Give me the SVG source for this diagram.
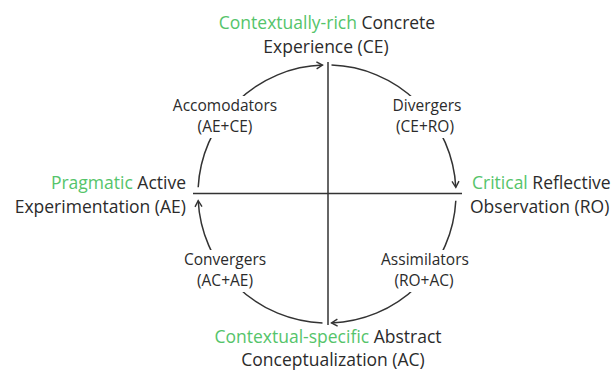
<svg xmlns="http://www.w3.org/2000/svg" width="616" height="371" viewBox="0 0 616 371">
<style>
  text { font-family: "Open Sans", Lato, "Liberation Sans", sans-serif; font-size: 17.5px; fill: #2b2b2b; }
  .g { fill: #55c46a; }
  .q { font-size: 15.5px; text-anchor: middle; }
  .c { text-anchor: middle; }
  .e { text-anchor: end; }
  .bg { fill: #ffffff; }
  .ln { fill: none; stroke: #333; stroke-width: 1.5; }
</style>
<defs>
  <marker id="ah" markerUnits="userSpaceOnUse" markerWidth="12" markerHeight="12" viewBox="-8 -6 10 12" refX="0" refY="0" orient="auto">
    <path d="M-6,-3.5 L0,0 L-6,3.5" fill="none" stroke="#333" stroke-width="1.4"/>
  </marker>
</defs>
<rect width="616" height="371" fill="#ffffff"/>
<g id="connectors">
  <path class="ln" d="M328,62 L328,325"/>
  <path class="ln" d="M193,193.5 L462,193.5"/>
  <path class="ln" d="M198.2,187.3 A129,129 0 0 1 322.5,65.1" marker-end="url(#ah)"/>
  <path class="ln" d="M331.5,65.1 A129,129 0 0 1 455.8,187.3" marker-end="url(#ah)"/>
  <path class="ln" d="M455.8,200.7 A129,129 0 0 1 331.5,322.9" marker-end="url(#ah)"/>
  <path class="ln" d="M322.5,322.9 A129,129 0 0 1 198.2,200.7" marker-end="url(#ah)"/>
</g>
<g id="node-ce">
  <text class="c" x="327" y="29"><tspan class="g">Contextually-rich</tspan> Concrete</text>
  <text class="c" x="326" y="53">Experience (CE)</text>
</g>
<g id="node-ae">
  <text class="e" x="186" y="189"><tspan class="g">Pragmatic</tspan> Active</text>
  <text class="e" x="186" y="213">Experimentation (AE)</text>
</g>
<g id="node-ro">
  <text x="472" y="189"><tspan class="g">Critical</tspan> Reflective</text>
  <text x="470" y="213">Observation (RO)</text>
</g>
<g id="node-ac">
  <text class="c" x="328" y="343"><tspan class="g">Contextual-specific</tspan> Abstract</text>
  <text class="c" x="333" y="366">Conceptualization (AC)</text>
</g>
<g id="node-accomodators">
  <rect class="bg" x="168" y="96" width="116" height="42"/>
  <text class="q" x="225" y="111">Accomodators</text>
  <text class="q" x="225" y="132">(AE+CE)</text>
</g>
<g id="node-divergers">
  <rect class="bg" x="382" y="96" width="90" height="42"/>
  <text class="q" x="427" y="111">Divergers</text>
  <text class="q" x="425" y="132">(CE+RO)</text>
</g>
<g id="node-convergers">
  <rect class="bg" x="176" y="250" width="98" height="42"/>
  <text class="q" x="225" y="265">Convergers</text>
  <text class="q" x="225" y="286">(AC+AE)</text>
</g>
<g id="node-assimilators">
  <rect class="bg" x="376" y="250" width="98" height="42"/>
  <text class="q" x="425" y="265">Assimilators</text>
  <text class="q" x="424" y="286">(RO+AC)</text>
</g>
</svg>
